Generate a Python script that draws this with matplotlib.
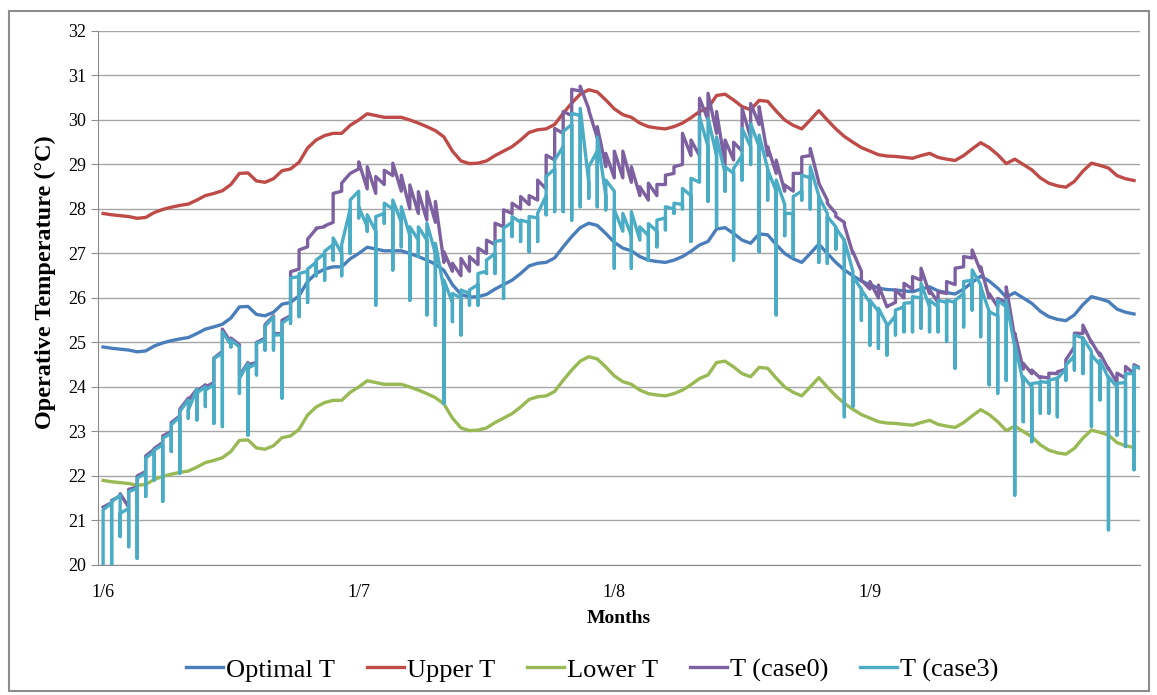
import matplotlib
matplotlib.use("Agg")
import matplotlib.pyplot as plt
from matplotlib.patches import Rectangle
import numpy as np

plt.rcParams['font.family'] = ['Liberation Serif', 'DejaVu Serif']

# daily values, June 1 .. Sept 30 (122 days)
optimal_t = [
    24.90, 24.87, 24.85, 24.83, 24.79, 24.81, 24.92, 24.99, 25.04, 25.08,
    25.11, 25.20, 25.30, 25.35, 25.41, 25.55, 25.80, 25.81, 25.63, 25.60,
    25.68, 25.86, 25.90, 26.05, 26.37, 26.55, 26.65, 26.70, 26.70, 26.88,
    27.00, 27.14, 27.10, 27.06, 27.06, 27.06, 27.00, 26.93, 26.85, 26.76,
    26.62, 26.30, 26.08, 26.02, 26.03, 26.08, 26.20, 26.30, 26.40, 26.55,
    26.72, 26.78, 26.80, 26.90, 27.15, 27.38, 27.58, 27.68, 27.63, 27.45,
    27.25, 27.12, 27.06, 26.93, 26.85, 26.82, 26.80, 26.85, 26.93, 27.05,
    27.19, 27.27, 27.55, 27.58, 27.45, 27.30, 27.23, 27.44, 27.42, 27.20,
    27.00, 26.88, 26.80, 27.00, 27.21, 27.00, 26.80, 26.63, 26.50, 26.38,
    26.30, 26.22, 26.19, 26.18, 26.16, 26.14, 26.20, 26.25, 26.16, 26.12,
    26.09, 26.20, 26.35, 26.49, 26.38, 26.22, 26.02, 26.12, 26.00, 25.88,
    25.70, 25.58, 25.52, 25.49, 25.62, 25.85, 26.03, 25.98, 25.92, 25.75,
    25.68, 25.64]
upper_t = [
    27.90, 27.87, 27.85, 27.83, 27.79, 27.81, 27.92, 27.99, 28.04, 28.08,
    28.11, 28.20, 28.30, 28.35, 28.41, 28.55, 28.80, 28.81, 28.63, 28.60,
    28.68, 28.86, 28.90, 29.05, 29.37, 29.55, 29.65, 29.70, 29.70, 29.88,
    30.00, 30.14, 30.10, 30.06, 30.06, 30.06, 30.00, 29.93, 29.85, 29.76,
    29.62, 29.30, 29.08, 29.02, 29.03, 29.08, 29.20, 29.30, 29.40, 29.55,
    29.72, 29.78, 29.80, 29.90, 30.15, 30.38, 30.58, 30.68, 30.63, 30.45,
    30.25, 30.12, 30.06, 29.93, 29.85, 29.82, 29.80, 29.85, 29.93, 30.05,
    30.19, 30.27, 30.55, 30.58, 30.45, 30.30, 30.23, 30.44, 30.42, 30.20,
    30.00, 29.88, 29.80, 30.00, 30.21, 30.00, 29.80, 29.63, 29.50, 29.38,
    29.30, 29.22, 29.19, 29.18, 29.16, 29.14, 29.20, 29.25, 29.16, 29.12,
    29.09, 29.20, 29.35, 29.49, 29.38, 29.22, 29.02, 29.12, 29.00, 28.88,
    28.70, 28.58, 28.52, 28.49, 28.62, 28.85, 29.03, 28.98, 28.92, 28.75,
    28.68, 28.64]
lower_t = [
    21.90, 21.87, 21.85, 21.83, 21.79, 21.81, 21.92, 21.99, 22.04, 22.08,
    22.11, 22.20, 22.30, 22.35, 22.41, 22.55, 22.80, 22.81, 22.63, 22.60,
    22.68, 22.86, 22.90, 23.05, 23.37, 23.55, 23.65, 23.70, 23.70, 23.88,
    24.00, 24.14, 24.10, 24.06, 24.06, 24.06, 24.00, 23.93, 23.85, 23.76,
    23.62, 23.30, 23.08, 23.02, 23.03, 23.08, 23.20, 23.30, 23.40, 23.55,
    23.72, 23.78, 23.80, 23.90, 24.15, 24.38, 24.58, 24.68, 24.63, 24.45,
    24.25, 24.12, 24.06, 23.93, 23.85, 23.82, 23.80, 23.85, 23.93, 24.05,
    24.19, 24.27, 24.55, 24.58, 24.45, 24.30, 24.23, 24.44, 24.42, 24.20,
    24.00, 23.88, 23.80, 24.00, 24.21, 24.00, 23.80, 23.63, 23.50, 23.38,
    23.30, 23.22, 23.19, 23.18, 23.16, 23.14, 23.20, 23.25, 23.16, 23.12,
    23.09, 23.20, 23.35, 23.49, 23.38, 23.22, 23.02, 23.12, 23.00, 22.88,
    22.70, 22.58, 22.52, 22.49, 22.62, 22.85, 23.03, 22.98, 22.92, 22.75,
    22.68, 22.64]

# case0: value after the daily jump (top) and value at the end of the day
case0_top = [
    21.30, 21.45, 21.60, 21.70, 22.00, 22.45, 22.62, 22.90, 23.20, 23.50,
    23.70, 23.90, 24.00, 24.65, 25.30, 25.10, 24.25, 24.50, 25.00, 25.40,
    25.20, 25.50, 26.59, 27.08, 27.32, 27.57, 27.62, 28.35, 28.58, 28.80,
    29.06, 28.95, 28.73, 28.87, 29.03, 28.76, 28.54, 28.39, 28.39, 28.17,
    27.04, 26.78, 26.89, 26.93, 27.12, 27.30, 27.68, 27.98, 28.13, 28.28,
    28.30, 28.65, 29.21, 29.81, 30.19, 30.69, 30.76, 30.22, 29.85, 29.25,
    29.30, 29.30, 28.95, 28.50, 28.58, 28.55, 28.76, 28.95, 29.70, 29.55,
    30.49, 30.60, 30.19, 29.55, 29.50, 30.26, 30.37, 30.30, 29.40, 29.10,
    28.54, 28.80, 29.17, 29.36, 28.58, 28.13, 27.83, 27.64, 27.04, 26.40,
    26.37, 26.29, 25.81, 26.18, 26.33, 26.48, 26.67, 26.18, 26.14, 26.37,
    26.67, 26.93, 27.08, 26.70, 26.10, 25.99, 26.25, 25.21, 24.53, 24.38,
    24.23, 24.31, 24.34, 24.61, 25.21, 25.39, 25.02, 24.76, 24.42, 24.31,
    24.46, 24.50]
case0_end = [
    21.40, 21.55, 21.30, 21.75, 22.10, 22.60, 22.75, 23.00, 23.35, 23.75,
    23.95, 24.05, 24.10, 24.80, 25.00, 24.95, 24.55, 24.55, 25.10, 25.60,
    25.20, 25.60, 26.65, 27.15, 27.55, 27.60, 27.70, 28.40, 28.80, 28.90,
    28.45, 28.35, 28.55, 28.75, 28.40, 28.00, 27.90, 27.75, 27.70, 26.80,
    26.60, 26.50, 26.60, 26.75, 27.00, 27.20, 27.60, 27.90, 28.00, 28.10,
    28.20, 28.45, 29.10, 29.70, 30.10, 30.65, 30.25, 29.60, 28.95, 28.70,
    28.70, 28.60, 28.30, 28.20, 28.30, 28.55, 28.80, 29.00, 29.20, 29.20,
    30.00, 29.70, 29.00, 29.10, 29.30, 29.60, 29.90, 29.20, 28.80, 28.40,
    28.40, 28.80, 29.20, 28.60, 28.20, 27.90, 27.70, 27.00, 26.60, 26.20,
    26.00, 25.80, 25.90, 26.00, 26.20, 26.40, 26.10, 25.90, 26.10, 26.30,
    26.70, 26.90, 26.60, 26.00, 25.80, 25.90, 25.10, 24.40, 24.30, 24.20,
    24.20, 24.30, 24.40, 24.90, 25.20, 25.00, 24.70, 24.40, 24.10, 24.20,
    24.30, 24.40]

# case3: top, end of day, and the short dip at the daily jump
case3_top = [
    21.24, 21.42, 21.16, 21.65, 21.95, 22.40, 22.58, 22.85, 23.15, 23.45,
    23.48, 23.86, 23.93, 24.64, 25.24, 25.06, 24.19, 24.42, 24.98, 25.36,
    25.17, 25.43, 26.45, 26.55, 26.65, 26.85, 27.05, 27.35, 27.20, 28.20,
    28.05, 27.87, 27.83, 28.13, 28.20, 28.05, 27.60, 27.60, 27.68, 27.23,
    26.40, 26.10, 26.18, 26.18, 26.55, 26.85, 27.27, 27.57, 27.83, 27.75,
    27.83, 27.90, 28.73, 29.10, 29.74, 30.15, 30.26, 28.95, 29.62, 28.65,
    27.98, 27.90, 27.94, 27.60, 27.67, 27.75, 28.05, 28.13, 28.46, 28.69,
    30.07, 30.04, 29.62, 28.95, 28.91, 29.81, 29.92, 29.66, 28.88, 28.65,
    27.90, 28.28, 28.76, 28.95, 28.28, 27.83, 27.57, 27.30, 26.48, 26.18,
    25.95, 25.77, 25.36, 25.73, 25.88, 26.03, 26.33, 25.95, 25.95, 25.95,
    25.95, 26.37, 26.63, 26.25, 25.69, 25.95, 25.95, 24.98, 24.23, 24.08,
    24.12, 24.15, 24.19, 24.49, 25.17, 25.10, 24.72, 24.60, 24.23, 24.08,
    24.30, 24.46]
case3_end = [
    21.39, 21.57, 21.27, 21.72, 22.06, 22.55, 22.70, 22.96, 23.33, 23.71,
    23.95, 24.01, 24.05, 24.76, 24.95, 24.90, 24.53, 24.53, 25.06, 25.58,
    25.17, 25.58, 26.48, 26.60, 26.80, 27.00, 27.20, 27.00, 28.00, 28.40,
    27.60, 27.50, 27.90, 28.00, 27.70, 27.40, 27.30, 27.30, 27.00, 26.20,
    25.90, 26.00, 26.10, 26.30, 26.60, 27.00, 27.30, 27.70, 27.70, 27.70,
    27.80, 28.30, 28.90, 29.40, 29.90, 30.10, 28.60, 29.30, 28.30, 28.40,
    27.50, 27.40, 27.30, 27.40, 27.50, 27.80, 28.00, 28.10, 28.30, 28.60,
    29.40, 29.20, 28.80, 28.80, 29.20, 29.40, 29.40, 28.90, 28.40, 28.10,
    27.90, 28.40, 28.70, 28.30, 27.90, 27.60, 27.30, 26.60, 26.20, 25.90,
    25.70, 25.40, 25.60, 25.80, 25.90, 26.00, 25.80, 25.80, 25.90, 25.90,
    26.10, 26.40, 26.30, 25.70, 25.60, 25.80, 24.90, 24.10, 24.00, 24.10,
    24.10, 24.20, 24.40, 24.70, 25.10, 24.80, 24.50, 24.20, 24.00, 24.10,
    24.30, 24.40]
case3_low = [
    20.00, 20.00, 20.64, 20.41, 20.15, 21.54, 21.91, 21.43, 22.55, 22.06,
    23.30, 23.26, 23.56, 23.18, 23.11, 24.90, 23.86, 22.92, 24.27, 24.83,
    24.83, 23.75, 25.43, 25.58, 25.90, 26.50, 26.40, 26.85, 26.50, 27.00,
    27.80, 27.50, 25.84, 27.68, 26.63, 27.15, 25.95, 26.93, 25.62, 25.39,
    23.63, 25.47, 25.17, 25.84, 25.84, 26.55, 26.55, 25.99, 27.38, 27.27,
    27.04, 27.27, 27.87, 27.94, 27.94, 27.75, 28.05, 28.24, 28.05, 27.98,
    26.67, 27.50, 26.67, 27.40, 26.85, 27.15, 27.53, 27.90, 28.00, 27.27,
    28.60, 28.17, 27.60, 28.40, 26.85, 28.65, 29.00, 27.04, 28.20, 25.62,
    27.40, 26.93, 28.20, 28.00, 26.80, 26.78, 27.10, 23.33, 23.56, 25.50,
    24.94, 24.87, 24.72, 25.17, 25.24, 25.24, 25.32, 25.24, 25.24, 25.02,
    24.42, 25.35, 25.73, 25.13, 24.05, 23.86, 24.15, 21.57, 23.22, 22.77,
    23.41, 23.41, 23.33, 24.15, 24.38, 24.30, 23.11, 23.71, 20.79, 22.92,
    22.66, 22.14]

tick_days = [0, 30, 60, 90]
tick_labels = ['1/6', '1/7', '1/8', '1/9']


def day_path(top, end, low=None):
    xs, ys = [], []
    for i in range(len(top)):
        if low is not None:
            prev = end[i - 1] if i > 0 else top[i]
            xs.append(i)
            ys.append(min(low[i], prev, top[i]))
        xs += [i, i + 1]
        ys += [top[i], end[i]]
    return xs, ys


days = np.arange(len(optimal_t))

fig = plt.figure(figsize=(11.57, 6.95), dpi=100)
fig.patches.append(Rectangle((9 / 1157, 4 / 695), 1140 / 1157, 680 / 695,
                             transform=fig.transFigure, fill=False,
                             edgecolor='#8c8c8c', lw=1.5))
ax = fig.add_axes([0.0847, 0.1871, 0.9006, 0.7683])

lw = 2.4
ax.plot(days, optimal_t, color='#4a7ebb', lw=lw, label='Optimal T')
ax.plot(days, upper_t, color='#be4b48', lw=lw, label='Upper T')
ax.plot(days, lower_t, color='#98b954', lw=lw, label='Lower T')
x0, y0 = day_path(case0_top, case0_end)
ax.plot(x0, y0, color='#7d60a0', lw=lw, label='T (case0)')
x3, y3 = day_path(case3_top, case3_end, case3_low)
ax.plot(x3, y3, color='#4bacc6', lw=lw, label='T (case3)')

ax.set_xlim(-0.6, 121.7)
ax.set_ylim(20, 32)
ax.set_yticks(range(20, 33))
ax.set_xticks(tick_days)
ax.set_xticklabels(tick_labels)
ax.tick_params(axis='both', labelsize=13, color='#8c8c8c', length=5)
ax.tick_params(axis='x', length=0, pad=14)
ax.grid(axis='y', color='#a6a6a6', lw=1)
ax.set_axisbelow(True)
for s in ['top', 'right']:
    ax.spines[s].set_visible(False)
for s in ['left', 'bottom']:
    ax.spines[s].set_color('#8c8c8c')

ax.set_xlabel('Months', fontsize=14, fontweight='bold', labelpad=6)
ax.set_ylabel('Operative Temperature (°C)', fontsize=17.5, fontweight='bold')
ax.yaxis.set_label_coords(-0.04, 0.53)

fig.legend(loc='center', bbox_to_anchor=(0.512, 0.036), ncol=5, frameon=False,
           fontsize=19, handlelength=1.4, handletextpad=0.12, columnspacing=1.2)

fig.savefig('out.png', dpi=100)
